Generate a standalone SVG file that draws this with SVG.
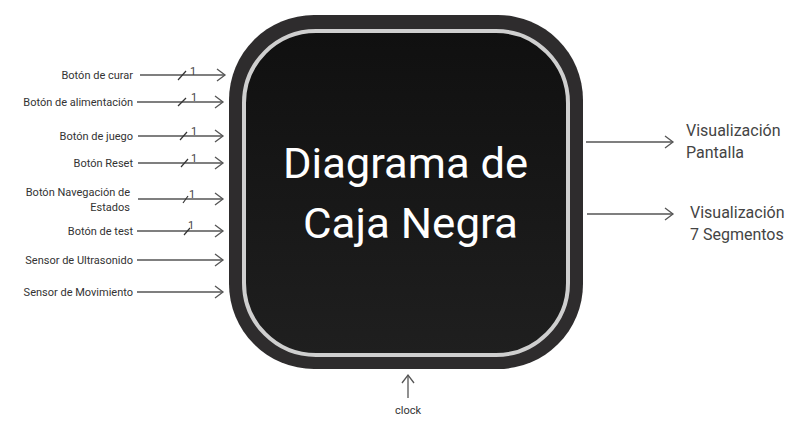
<svg xmlns="http://www.w3.org/2000/svg" width="796" height="428" viewBox="0 0 796 428">
<style>
.lbl{font-family:Roboto,"Liberation Sans",sans-serif;font-size:11px;fill:#333;text-anchor:end}
.one{font-family:Roboto,"Liberation Sans",sans-serif;font-size:11px;fill:#444}
.out{font-family:Roboto,"Liberation Sans",sans-serif;font-size:16px;fill:#444}
.ln{stroke:#555;stroke-width:1.3;fill:none}
.big{font-family:Roboto,"Liberation Sans",sans-serif;font-size:42px;fill:#fff}
</style>
<defs>
<marker id="ah" markerWidth="12" markerHeight="14" refX="10" refY="7" orient="auto" markerUnits="userSpaceOnUse">
<path d="M2,1 L10,7 L2,13" fill="none" stroke="#555" stroke-width="1.3"/>
</marker>
<linearGradient id="g" x1="0" y1="0" x2="0" y2="1">
<stop offset="0" stop-color="#101010"/>
<stop offset="1" stop-color="#1f1f1f"/>
</linearGradient>
</defs>
<g id="box">
<rect x="229" y="15" width="354" height="354" rx="85" fill="#2e2c2d"/>
<rect x="244" y="31" width="324" height="324" rx="72" fill="url(#g)" stroke="#cfcfcf" stroke-width="4"/>
<text class="big" x="283" y="178" textLength="245" lengthAdjust="spacingAndGlyphs">Diagrama de</text>
<text class="big" x="303" y="238" textLength="215" lengthAdjust="spacingAndGlyphs">Caja Negra</text>
</g>
<g id="connectors">
<line class="ln" x1="140" y1="75" x2="225" y2="75" marker-end="url(#ah)"/>
<line class="ln" x1="137" y1="102" x2="223" y2="102" marker-end="url(#ah)"/>
<line class="ln" x1="138" y1="136" x2="223" y2="136" marker-end="url(#ah)"/>
<line class="ln" x1="138" y1="163" x2="223" y2="163" marker-end="url(#ah)"/>
<line class="ln" x1="138" y1="199" x2="223" y2="199" marker-end="url(#ah)"/>
<line class="ln" x1="137" y1="231" x2="223" y2="231" marker-end="url(#ah)"/>
<line class="ln" x1="137" y1="260" x2="223" y2="260" marker-end="url(#ah)"/>
<line class="ln" x1="137" y1="292" x2="223" y2="292" marker-end="url(#ah)"/>
<line class="ln" x1="586" y1="142" x2="673" y2="142" marker-end="url(#ah)"/>
<line class="ln" x1="587" y1="214" x2="673" y2="214" marker-end="url(#ah)"/>
<line class="ln" x1="408" y1="398" x2="408" y2="375" marker-end="url(#ah)"/>
<g stroke="#333" stroke-width="1.2">
<line x1="178" y1="80" x2="186" y2="71"/>
<line x1="178" y1="106" x2="186" y2="98"/>
<line x1="180" y1="140" x2="187" y2="132"/>
<line x1="181" y1="167" x2="188" y2="159"/>
<line x1="183" y1="203" x2="188" y2="196"/>
<line x1="184" y1="235" x2="190" y2="228"/>
</g>
</g>
<g id="labels">
<text class="lbl" x="133" y="79">Botón de curar</text>
<text class="lbl" x="133" y="106">Botón de alimentación</text>
<text class="lbl" x="133" y="140">Botón de juego</text>
<text class="lbl" x="133" y="167">Botón Reset</text>
<text class="lbl" x="130" y="196">Botón Navegación de</text>
<text class="lbl" x="130" y="211">Estados</text>
<text class="lbl" x="133" y="235">Botón de test</text>
<text class="lbl" x="133" y="264">Sensor de Ultrasonido</text>
<text class="lbl" x="133" y="296">Sensor de Movimiento</text>
<text class="one" x="190" y="75">1</text>
<text class="one" x="191" y="101">1</text>
<text class="one" x="191" y="135">1</text>
<text class="one" x="191" y="162">1</text>
<text class="one" x="189" y="198">1</text>
<text class="one" x="188" y="229">1</text>
<text class="out" x="686" y="136">Visualización</text>
<text class="out" x="686" y="158">Pantalla</text>
<text class="out" x="690" y="218">Visualización</text>
<text class="out" x="690" y="240">7 Segmentos</text>
<text class="lbl" x="408" y="414" style="text-anchor:middle">clock</text>
</g>
</svg>
